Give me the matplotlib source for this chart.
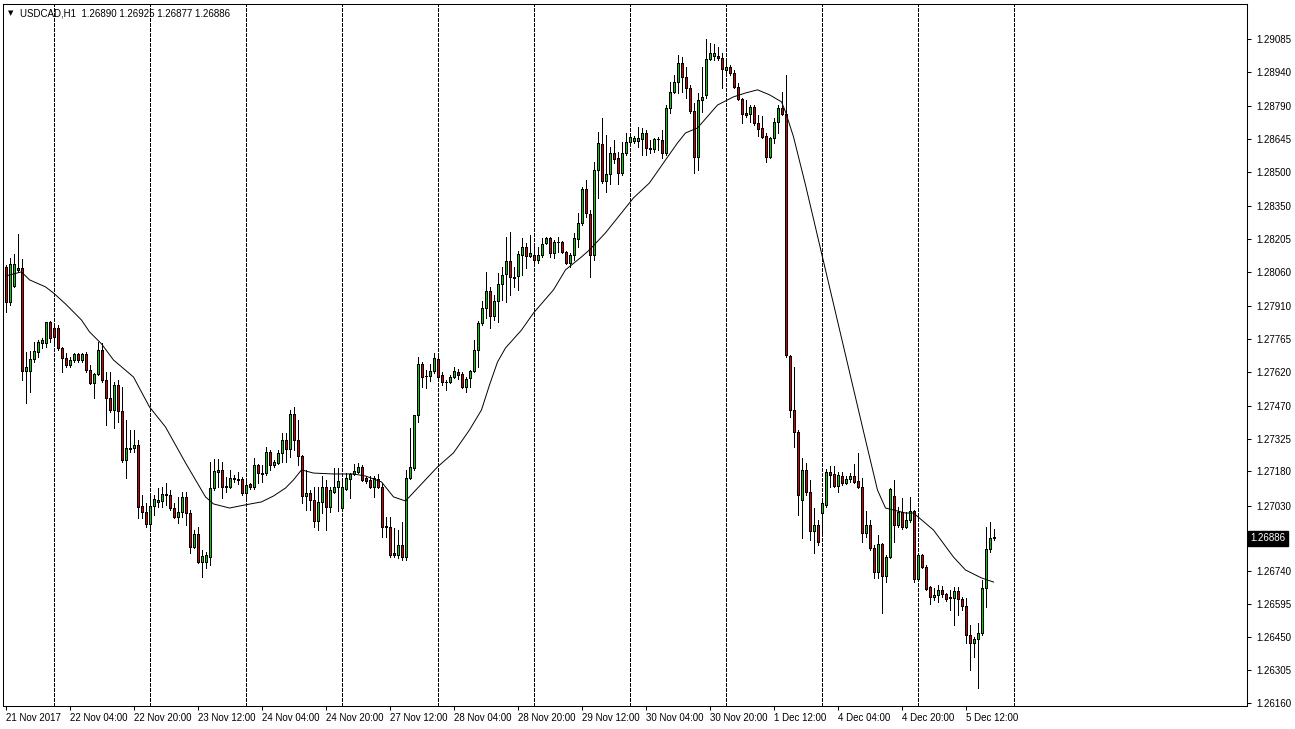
import matplotlib
matplotlib.use("Agg")
import matplotlib.pyplot as plt
import matplotlib.transforms as mtransforms
import numpy as np

# USDCAD H1 candles, 21 Nov 2017 12:00 .. 5 Dec 2017 19:00
opens = [
    1.28081, 1.27927, 1.27997, 1.28068, 1.28077, 1.27623, 1.27623, 1.27676, 1.27706, 1.27746,
    1.27746, 1.27839, 1.27812, 1.27812, 1.27724, 1.27680, 1.27649, 1.27671, 1.27698, 1.27671,
    1.27698, 1.27627, 1.27570, 1.27610, 1.27715, 1.27583, 1.27504, 1.27451, 1.27561, 1.27447,
    1.27231, 1.27279, 1.27284, 1.27297, 1.27028, 1.27002, 1.26949, 1.27028, 1.27046, 1.27050,
    1.27081, 1.27077, 1.27019, 1.26980, 1.27002, 1.27068, 1.26997, 1.26847, 1.26905, 1.26781,
    1.26781, 1.26803, 1.27107, 1.27178, 1.27187, 1.27112, 1.27112, 1.27147, 1.27147, 1.27147,
    1.27085, 1.27125, 1.27112, 1.27209, 1.27169, 1.27173, 1.27266, 1.27209, 1.27218, 1.27262,
    1.27319, 1.27279, 1.27433, 1.27319, 1.27248, 1.27072, 1.27085, 1.27055, 1.26962, 1.27046,
    1.27112, 1.27024, 1.27090, 1.27112, 1.27019, 1.27103, 1.27147, 1.27169, 1.27178, 1.27200,
    1.27151, 1.27143, 1.27112, 1.27147, 1.27112, 1.26940, 1.26936, 1.26821, 1.26812, 1.26856,
    1.26803, 1.27151, 1.27196, 1.27429, 1.27654, 1.27601, 1.27601, 1.27623, 1.27676, 1.27605,
    1.27574, 1.27574, 1.27596, 1.27618, 1.27610, 1.27552, 1.27592, 1.27623, 1.27715, 1.27834,
    1.27900, 1.27975, 1.27865, 1.27931, 1.28006, 1.28050, 1.28107, 1.28037, 1.28041, 1.28134,
    1.28169, 1.28129, 1.28134, 1.28112, 1.28134, 1.28187, 1.28209, 1.28143, 1.28191, 1.28191,
    1.28147, 1.28099, 1.28134, 1.28204, 1.28275, 1.28425, 1.28314, 1.28134, 1.28508, 1.28623,
    1.28460, 1.28491, 1.28583, 1.28561, 1.28495, 1.28583, 1.28632, 1.28636, 1.28636, 1.28645,
    1.28671, 1.28605, 1.28601, 1.28645, 1.28640, 1.28583, 1.28781, 1.28852, 1.28896, 1.28980,
    1.28918, 1.28869, 1.28768, 1.28565, 1.28817, 1.28839, 1.28997, 1.29010, 1.29010, 1.29002,
    1.28949, 1.28962, 1.28935, 1.28874, 1.28821, 1.28759, 1.28755, 1.28786, 1.28715, 1.28693,
    1.28658, 1.28565, 1.28649, 1.28720, 1.28781, 1.28755, 1.27689, 1.27451, 1.27354, 1.27055,
    1.27187, 1.27090, 1.26918, 1.26944, 1.26997, 1.27033, 1.27178, 1.27169, 1.27116, 1.27160,
    1.27129, 1.27147, 1.27160, 1.27138, 1.27112, 1.26909, 1.26944, 1.26843, 1.26737, 1.26861,
    1.26720, 1.26803, 1.27072, 1.26944, 1.27002, 1.26936, 1.26966, 1.27006, 1.26707, 1.26812,
    1.26759, 1.26671, 1.26627, 1.26636, 1.26658, 1.26640, 1.26627, 1.26623, 1.26654, 1.26618,
    1.26588, 1.26460, 1.26425, 1.26442, 1.26469, 1.26667, 1.26839, 1.26890,
]
highs = [
    1.28090, 1.28121, 1.28138, 1.28226, 1.28116, 1.27706, 1.27711, 1.27751, 1.27759, 1.27768,
    1.27839, 1.27843, 1.27825, 1.27825, 1.27729, 1.27702, 1.27684, 1.27702, 1.27702, 1.27702,
    1.27706, 1.27649, 1.27614, 1.27751, 1.27746, 1.27618, 1.27618, 1.27574, 1.27583, 1.27552,
    1.27407, 1.27363, 1.27363, 1.27319, 1.27077, 1.27041, 1.27077, 1.27077, 1.27107, 1.27112,
    1.27129, 1.27098, 1.27041, 1.27068, 1.27090, 1.27090, 1.27010, 1.26922, 1.26936, 1.26834,
    1.26825, 1.27222, 1.27235, 1.27235, 1.27222, 1.27156, 1.27187, 1.27165, 1.27178, 1.27156,
    1.27134, 1.27129, 1.27240, 1.27213, 1.27209, 1.27288, 1.27275, 1.27231, 1.27275, 1.27350,
    1.27350, 1.27451, 1.27464, 1.27407, 1.27253, 1.27187, 1.27098, 1.27112, 1.27112, 1.27160,
    1.27143, 1.27112, 1.27196, 1.27196, 1.27151, 1.27173, 1.27173, 1.27213, 1.27218, 1.27209,
    1.27160, 1.27160, 1.27160, 1.27169, 1.27129, 1.26980, 1.26980, 1.26931, 1.26922, 1.26958,
    1.27187, 1.27372, 1.27429, 1.27684, 1.27662, 1.27627, 1.27654, 1.27702, 1.27702, 1.27618,
    1.27583, 1.27605, 1.27640, 1.27632, 1.27618, 1.27596, 1.27627, 1.27759, 1.27843, 1.27931,
    1.28059, 1.27993, 1.27958, 1.28054, 1.28081, 1.28213, 1.28235, 1.28081, 1.28151, 1.28209,
    1.28187, 1.28222, 1.28169, 1.28169, 1.28209, 1.28213, 1.28213, 1.28200, 1.28213, 1.28195,
    1.28151, 1.28143, 1.28231, 1.28319, 1.28433, 1.28464, 1.28332, 1.28543, 1.28676, 1.28737,
    1.28662, 1.28610, 1.28640, 1.28587, 1.28632, 1.28671, 1.28658, 1.28658, 1.28698, 1.28693,
    1.28684, 1.28640, 1.28649, 1.28654, 1.28684, 1.28794, 1.28896, 1.28927, 1.29015, 1.29006,
    1.28962, 1.28883, 1.28803, 1.28847, 1.28962, 1.29085, 1.29068, 1.29063, 1.29050, 1.29024,
    1.28984, 1.28971, 1.28949, 1.28891, 1.28825, 1.28817, 1.28794, 1.28794, 1.28750, 1.28746,
    1.28671, 1.28654, 1.28737, 1.28794, 1.28852, 1.28927, 1.27693, 1.27640, 1.27363, 1.27240,
    1.27218, 1.27143, 1.27019, 1.26966, 1.27063, 1.27191, 1.27204, 1.27204, 1.27178, 1.27178,
    1.27160, 1.27173, 1.27213, 1.27262, 1.27151, 1.27006, 1.26966, 1.26856, 1.26900, 1.26865,
    1.26812, 1.27107, 1.27143, 1.27024, 1.27063, 1.27002, 1.27068, 1.27010, 1.26821, 1.26817,
    1.26768, 1.26676, 1.26667, 1.26680, 1.26676, 1.26645, 1.26658, 1.26671, 1.26671, 1.26627,
    1.26623, 1.26504, 1.26451, 1.26513, 1.26702, 1.26936, 1.26958, 1.26925,
]
lows = [
    1.27883, 1.27914, 1.27993, 1.28059, 1.27583, 1.27482, 1.27530, 1.27662, 1.27684, 1.27724,
    1.27729, 1.27751, 1.27751, 1.27715, 1.27618, 1.27640, 1.27640, 1.27662, 1.27662, 1.27662,
    1.27618, 1.27566, 1.27504, 1.27605, 1.27574, 1.27385, 1.27442, 1.27372, 1.27398, 1.27222,
    1.27151, 1.27266, 1.27266, 1.26975, 1.26975, 1.26936, 1.26936, 1.26988, 1.27024, 1.27024,
    1.27032, 1.27010, 1.26975, 1.26953, 1.26980, 1.26944, 1.26821, 1.26843, 1.26777, 1.26715,
    1.26755, 1.26768, 1.27098, 1.27112, 1.27063, 1.27090, 1.27107, 1.27134, 1.27125, 1.27077,
    1.27068, 1.27103, 1.27103, 1.27129, 1.27134, 1.27165, 1.27187, 1.27200, 1.27213, 1.27222,
    1.27222, 1.27244, 1.27275, 1.27209, 1.27041, 1.27010, 1.27010, 1.26936, 1.26922, 1.26997,
    1.26922, 1.27002, 1.27085, 1.27006, 1.27010, 1.27098, 1.27063, 1.27165, 1.27173, 1.27138,
    1.27129, 1.27107, 1.27068, 1.27107, 1.26892, 1.26892, 1.26803, 1.26803, 1.26799, 1.26790,
    1.26790, 1.27147, 1.27187, 1.27398, 1.27552, 1.27548, 1.27579, 1.27614, 1.27583, 1.27561,
    1.27539, 1.27570, 1.27592, 1.27588, 1.27548, 1.27530, 1.27552, 1.27618, 1.27640, 1.27825,
    1.27856, 1.27812, 1.27847, 1.27839, 1.27936, 1.27927, 1.27958, 1.27993, 1.27980, 1.28046,
    1.28077, 1.28125, 1.28103, 1.28099, 1.28125, 1.28182, 1.28125, 1.28121, 1.28147, 1.28143,
    1.28094, 1.28081, 1.28112, 1.28169, 1.28266, 1.28301, 1.28037, 1.28112, 1.28385, 1.28451,
    1.28411, 1.28447, 1.28539, 1.28447, 1.28486, 1.28574, 1.28627, 1.28627, 1.28610, 1.28574,
    1.28574, 1.28583, 1.28587, 1.28596, 1.28561, 1.28574, 1.28759, 1.28847, 1.28847, 1.28852,
    1.28825, 1.28759, 1.28495, 1.28508, 1.28764, 1.28825, 1.28993, 1.28993, 1.28993, 1.28869,
    1.28935, 1.28927, 1.28869, 1.28817, 1.28715, 1.28742, 1.28720, 1.28706, 1.28658, 1.28649,
    1.28543, 1.28561, 1.28627, 1.28671, 1.28750, 1.27684, 1.27420, 1.27288, 1.26988, 1.26887,
    1.27077, 1.26878, 1.26821, 1.26856, 1.26909, 1.27024, 1.27112, 1.27112, 1.27090, 1.27121,
    1.27125, 1.27134, 1.27129, 1.27107, 1.26870, 1.26892, 1.26834, 1.26711, 1.26711, 1.26557,
    1.26693, 1.26799, 1.26870, 1.26936, 1.26927, 1.26931, 1.26958, 1.26693, 1.26702, 1.26755,
    1.26658, 1.26596, 1.26614, 1.26605, 1.26627, 1.26610, 1.26570, 1.26504, 1.26548, 1.26570,
    1.26425, 1.26306, 1.26363, 1.26226, 1.26460, 1.26583, 1.26825, 1.26877,
]
closes = [
    1.27927, 1.28094, 1.28094, 1.28077, 1.27623, 1.27640, 1.27676, 1.27711, 1.27751, 1.27759,
    1.27839, 1.27768, 1.27773, 1.27724, 1.27680, 1.27649, 1.27671, 1.27698, 1.27671, 1.27698,
    1.27627, 1.27570, 1.27610, 1.27715, 1.27583, 1.27504, 1.27451, 1.27561, 1.27447, 1.27231,
    1.27284, 1.27284, 1.27297, 1.27024, 1.27002, 1.26949, 1.27028, 1.27059, 1.27055, 1.27081,
    1.27077, 1.27019, 1.26980, 1.27002, 1.27068, 1.26997, 1.26847, 1.26905, 1.26781, 1.26808,
    1.26812, 1.27107, 1.27182, 1.27187, 1.27112, 1.27116, 1.27151, 1.27151, 1.27143, 1.27085,
    1.27121, 1.27112, 1.27209, 1.27173, 1.27173, 1.27266, 1.27209, 1.27222, 1.27262, 1.27319,
    1.27279, 1.27433, 1.27319, 1.27248, 1.27072, 1.27085, 1.27055, 1.26962, 1.27046, 1.27112,
    1.27024, 1.27098, 1.27112, 1.27138, 1.27112, 1.27151, 1.27169, 1.27182, 1.27200, 1.27143,
    1.27138, 1.27112, 1.27151, 1.27112, 1.26936, 1.26936, 1.26812, 1.26812, 1.26856, 1.26803,
    1.27151, 1.27200, 1.27429, 1.27654, 1.27596, 1.27601, 1.27623, 1.27680, 1.27596, 1.27574,
    1.27574, 1.27596, 1.27623, 1.27605, 1.27552, 1.27588, 1.27623, 1.27715, 1.27834, 1.27900,
    1.27975, 1.27865, 1.27931, 1.28006, 1.28046, 1.28107, 1.28037, 1.28032, 1.28138, 1.28169,
    1.28129, 1.28143, 1.28112, 1.28134, 1.28182, 1.28209, 1.28143, 1.28191, 1.28191, 1.28147,
    1.28099, 1.28134, 1.28209, 1.28275, 1.28425, 1.28319, 1.28134, 1.28508, 1.28627, 1.28460,
    1.28491, 1.28583, 1.28557, 1.28495, 1.28583, 1.28632, 1.28654, 1.28649, 1.28649, 1.28671,
    1.28605, 1.28601, 1.28645, 1.28645, 1.28583, 1.28781, 1.28852, 1.28896, 1.28980, 1.28918,
    1.28869, 1.28768, 1.28565, 1.28817, 1.28830, 1.28997, 1.29024, 1.29024, 1.29002, 1.28953,
    1.28962, 1.28935, 1.28874, 1.28821, 1.28755, 1.28750, 1.28786, 1.28715, 1.28689, 1.28654,
    1.28565, 1.28649, 1.28720, 1.28781, 1.28755, 1.27693, 1.27451, 1.27354, 1.27077, 1.27187,
    1.27090, 1.26918, 1.26944, 1.26870, 1.27041, 1.27178, 1.27165, 1.27116, 1.27165, 1.27129,
    1.27147, 1.27160, 1.27134, 1.27112, 1.26909, 1.26944, 1.26843, 1.26737, 1.26861, 1.26720,
    1.26803, 1.27103, 1.26944, 1.27002, 1.26936, 1.26966, 1.27006, 1.26707, 1.26812, 1.26759,
    1.26663, 1.26627, 1.26636, 1.26658, 1.26640, 1.26618, 1.26623, 1.26654, 1.26618, 1.26588,
    1.26460, 1.26425, 1.26442, 1.26469, 1.26667, 1.26839, 1.26887, 1.26886,
]

# moving average line, sampled at these bars
ma_bars = [0, 4, 6, 10, 12, 15, 19, 21, 24, 27, 32, 36, 40, 45, 50, 52, 56, 60, 64, 67,
           70, 72, 74, 77, 82, 87, 90, 94, 97, 100, 104, 108, 112, 116, 119, 121, 123, 125,
           129, 132, 137, 140, 144, 146, 150, 157, 161, 165, 168, 170, 173, 178, 182, 185,
           188, 191, 194, 195, 197, 200, 215, 218, 220, 225, 227, 232, 237, 240, 244, 247]
ma_values = [1.28041, 1.28059, 1.28024, 1.27993, 1.27966, 1.27918, 1.27847, 1.27795, 1.27742,
             1.27671, 1.27596, 1.27464, 1.27376, 1.27218, 1.27068, 1.27037, 1.27019, 1.27033,
             1.27046, 1.27072, 1.27107, 1.27143, 1.27187, 1.27173, 1.27169, 1.27169, 1.27160,
             1.27134, 1.27068, 1.27050, 1.27125, 1.27200, 1.27262, 1.27363, 1.27451, 1.27561,
             1.27662, 1.27724, 1.27803, 1.27878, 1.27980, 1.28068, 1.28125, 1.28156, 1.28231,
             1.28385, 1.28451, 1.28552, 1.28627, 1.28671, 1.28693, 1.28794, 1.28830, 1.28847,
             1.28861, 1.28839, 1.28808, 1.28764, 1.28654, 1.28442, 1.27319, 1.27098, 1.27019,
             1.26997, 1.26997, 1.26922, 1.26803, 1.26746, 1.26711, 1.26693]

time_label_bars = list(range(0, 241, 16))
time_labels = ["21 Nov 2017", "22 Nov 04:00", "22 Nov 20:00", "23 Nov 12:00", "24 Nov 04:00",
               "24 Nov 20:00", "27 Nov 12:00", "28 Nov 04:00", "28 Nov 20:00", "29 Nov 12:00",
               "30 Nov 04:00", "30 Nov 20:00", "1 Dec 12:00", "4 Dec 04:00", "4 Dec 20:00",
               "5 Dec 12:00"]
day_start_bars = list(range(12, 253, 24))
price_ticks = [1.29085, 1.28940, 1.28790, 1.28645, 1.28500, 1.28350, 1.28205, 1.28060,
               1.27910, 1.27765, 1.27620, 1.27470, 1.27325, 1.27180, 1.27030, 1.26740,
               1.26595, 1.26450, 1.26305, 1.26160]
title = "USDCAD,H1  1.26890 1.26925 1.26877 1.26886"
last_price = 1.26886

W, H = 1295, 729
plt.rcParams['font.family'] = ['Liberation Sans', 'DejaVu Sans']
fig = plt.figure(figsize=(W / 100, H / 100), dpi=100)
fig.patch.set_facecolor('white')
ax = fig.add_axes([3 / W, 1 - 706 / H, 1244 / W, 702 / H])

o = np.array(opens)
h = np.array(highs)
l = np.array(lows)
c = np.array(closes)
x = np.arange(len(o))
up = c >= o

# daily separators
for d in day_start_bars:
    ax.axvline(d, color='black', lw=0.6, ls=(0, (3.6, 2.4)), zorder=1, antialiased=False)

ax.vlines(x, l, h, color='black', lw=0.5, zorder=3, antialiased=False)
lo = np.minimum(o, c)
hgt = np.abs(c - o)
ax.bar(x[up], hgt[up], bottom=lo[up], width=0.5, color='#00d000', edgecolor='black',
       linewidth=0.5, zorder=4, antialiased=False)
ax.bar(x[~up], hgt[~up], bottom=lo[~up], width=0.5, color='#d00000', edgecolor='black',
       linewidth=0.5, zorder=4, antialiased=False)

ax.plot(ma_bars, ma_values, color='black', lw=0.7, zorder=5)

ax.set_xlim(-0.625, 310.375)
ax.set_ylim(1.26147, 1.29239)

ax.yaxis.tick_right()
ax.set_yticks(price_ticks)
ax.set_yticklabels(["%.5f" % v for v in price_ticks], fontsize=7)
ax.tick_params(axis='y', length=3, width=0.75, pad=4)
ax.set_xticks(time_label_bars)
ax.set_xticklabels(time_labels, fontsize=7, ha='left')
ax.tick_params(axis='x', length=3, width=0.75, pad=2)
for s in ax.spines.values():
    s.set_linewidth(0.75)

# current price box on the price scale
trans = mtransforms.blended_transform_factory(ax.transAxes, ax.transData)
ax.text(1.003, last_price, "%.5f" % last_price, transform=trans, fontsize=7, color='white',
        va='center', ha='left', zorder=10,
        bbox=dict(boxstyle='square,pad=0.25', facecolor='black', edgecolor='black'))

fig.text(8 / W, 1 - 13 / H, "\u25BC", fontsize=5, va='center', ha='left', family='DejaVu Sans')
fig.text(20 / W, 1 - 13 / H, title, fontsize=7, va='center', ha='left')

fig.savefig("out.png", dpi=100)
